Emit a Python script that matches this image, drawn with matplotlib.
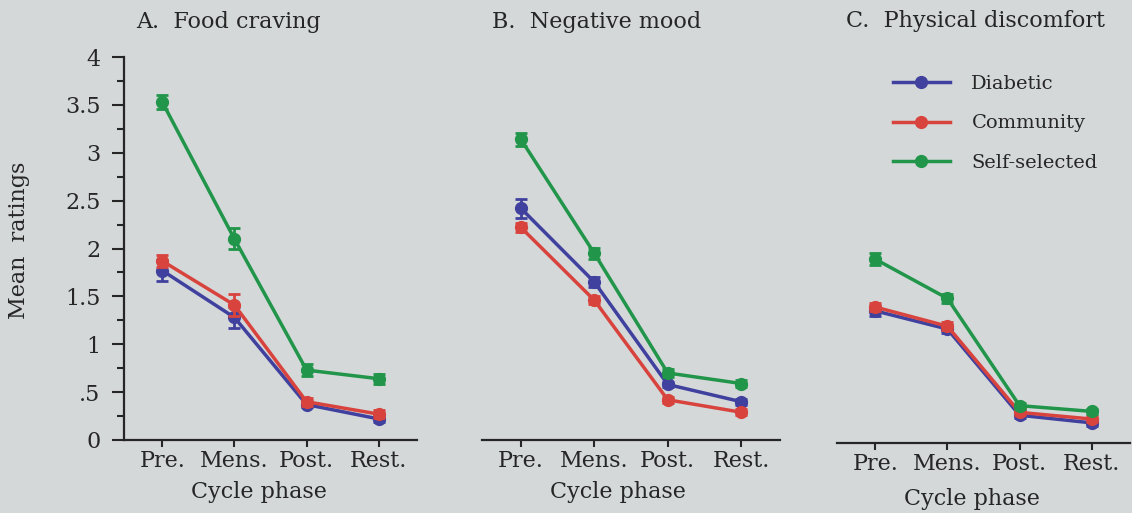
import numpy as np
import matplotlib.pyplot as plt
from matplotlib.ticker import MultipleLocator

# Data
phases = ['Pre.', 'Mens.', 'Post.', 'Rest.']
groups = ['Diabetic', 'Community', 'Self-selected']
panel_titles = ['A.  Food craving', 'B.  Negative mood', 'C.  Physical discomfort']

food_means = [[1.77, 1.28, 0.37, 0.22],
              [1.87, 1.41, 0.40, 0.27],
              [3.53, 2.10, 0.73, 0.64]]
food_err = [[0.11, 0.11, 0.03, 0.03],
            [0.06, 0.12, 0.04, 0.04],
            [0.07, 0.11, 0.06, 0.05]]

mood_means = [[2.42, 1.65, 0.58, 0.40],
              [2.22, 1.46, 0.42, 0.29],
              [3.14, 1.95, 0.70, 0.59]]
mood_err = [[0.10, 0.05, 0.03, 0.03],
            [0.05, 0.04, 0.03, 0.03],
            [0.07, 0.06, 0.04, 0.04]]

pain_means = [[1.38, 1.19, 0.29, 0.21],
              [1.42, 1.22, 0.32, 0.25],
              [1.92, 1.51, 0.39, 0.33]]
pain_err = [[0.05, 0.04, 0.03, 0.03],
            [0.04, 0.04, 0.03, 0.03],
            [0.06, 0.05, 0.03, 0.03]]

yticks = [0, 0.5, 1, 1.5, 2, 2.5, 3, 3.5, 4]
ytick_labels = ['0', '.5', '1', '1.5', '2', '2.5', '3', '3.5', '4']

# style
BG = '#d4d8d9'
INK = '#262626'
colors = ['#40409e', '#d8443d', '#21954a']
FS = 16
plt.rcParams['font.family'] = ['DejaVu Serif']

W, H = 1132, 513
fig = plt.figure(figsize=(W / 100, H / 100), dpi=100, facecolor=BG)

# axes boxes in pixels: left, right, bottom (y=0), top (y=4)
boxes = [(124, 417, 440, 57), (482, 780, 440, 57), (837, 1130, 443, 60)]
title_x = [0.358, 0.386, 0.474]
title_y = [1.091, 1.091, 1.102]
xlabel_x = [0.46, 0.456, 0.461]
xlabel_y = [-0.108, -0.108, -0.118]

all_means = [food_means, mood_means, pain_means]
all_err = [food_err, mood_err, pain_err]
x = np.arange(len(phases))

for i, (l, r, b, t) in enumerate(boxes):
    ax = fig.add_axes([l / W, (H - b) / H, (r - l) / W, (b - t) / H])
    ax.set_facecolor(BG)
    handles = []
    for g in range(len(groups)):
        c = ax.errorbar(x, all_means[i][g], yerr=all_err[i][g], color=colors[g],
                        lw=2.5, marker='o', ms=8.5, capsize=4.3, capthick=2,
                        elinewidth=2, label=groups[g], zorder=3 + g)
        handles.append(c[0])
    ax.set_xlim(-0.53, 3.53)
    ax.set_ylim(0, 4)
    ax.set_xticks(x)
    ax.set_xticklabels(phases, fontsize=FS, color=INK)
    ax.tick_params(axis='x', direction='out', length=5, width=1.5, pad=2, color=INK)
    for s in ['top', 'right']:
        ax.spines[s].set_visible(False)
    ax.spines['bottom'].set_linewidth(1.6)
    ax.spines['bottom'].set_color(INK)
    if i == 0:
        ax.set_yticks(yticks)
        ax.set_yticklabels(ytick_labels, fontsize=FS, color=INK)
        ax.yaxis.set_minor_locator(MultipleLocator(0.25))
        ax.tick_params(axis='y', which='major', direction='out', length=9, width=1.5, pad=8, color=INK)
        ax.tick_params(axis='y', which='minor', direction='out', length=5, width=1.5, color=INK)
        ax.spines['left'].set_linewidth(1.6)
        ax.spines['left'].set_color(INK)
        ax.set_ylabel('Mean  ratings', fontsize=FS, color=INK)
        ax.yaxis.set_label_coords(-0.322, 0.522)
    else:
        ax.spines['left'].set_visible(False)
        ax.set_yticks([])
    ax.text(title_x[i], title_y[i], panel_titles[i], transform=ax.transAxes,
            ha='center', va='center', fontsize=FS, color=INK)
    ax.set_xlabel('Cycle phase', fontsize=FS, color=INK)
    ax.xaxis.set_label_coords(xlabel_x[i], xlabel_y[i])
    if i == 2:
        ax.legend(handles=handles, labels=groups, loc='upper left',
                  bbox_to_anchor=(0.19, 0.962), frameon=False, fontsize=14,
                  handlelength=2.95, handletextpad=1.1, labelspacing=1.12,
                  borderpad=0, borderaxespad=0, labelcolor=INK)

fig.savefig('out.png', dpi=100, facecolor=BG)
